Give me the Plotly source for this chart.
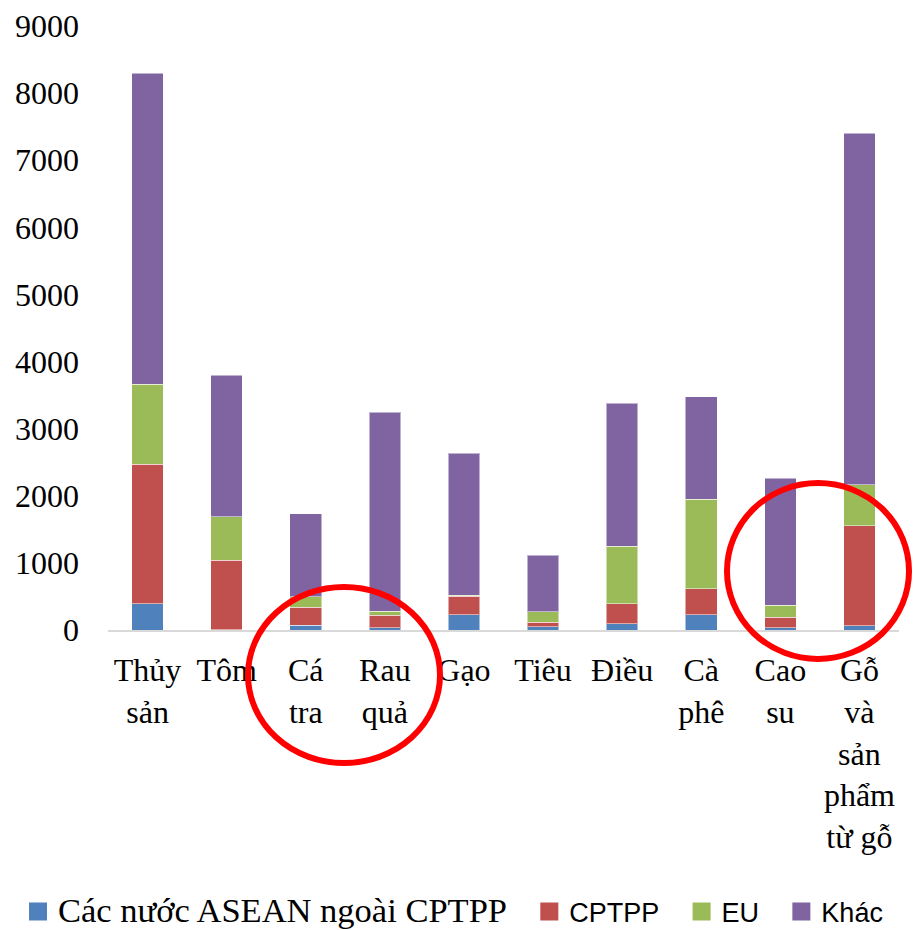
import plotly.graph_objects as go

categories = ["Thủy<br>sản", "Tôm", "Cá<br>tra", "Rau<br>quả", "Gạo", "Tiêu", "Điều",
              "Cà<br>phê", "Cao<br>su", "Gỗ<br>và<br>sản<br>phẩm<br>từ gỗ"]
asean_ngoai = [390, 5, 71, 33, 226, 52, 92, 226, 33, 62]
cptpp = [2077, 1034, 268, 187, 277, 60, 298, 387, 157, 1493]
eu = [1197, 650, 160, 60, 15, 159, 857, 1333, 179, 610]
khac = [4632, 2109, 1235, 2967, 2113, 842, 2134, 1529, 1890, 5238]

series_names = ["Các nước ASEAN ngoài CPTPP", "CPTPP", "EU", "Khác"]
PAD = "\u00a0\u00a0\u200a"
legend_labels = ['<span style="font-family:Liberation Serif;font-size:34.5px">Các nước ASEAN ngoài CPTPP</span>' + PAD,
                 "CPTPP" + PAD, "EU" + PAD, "Khác"]
series_values = [asean_ngoai, cptpp, eu, khac]
series_colors = ["#4F81BD", "#C0504D", "#9BBB59", "#8064A2"]

fig = go.Figure()
for name, label, vals, col in zip(series_names, legend_labels, series_values, series_colors):
    fig.add_trace(go.Bar(x=list(range(len(categories))), y=vals, name=name, legendgroup=name,
                         showlegend=False,
                         marker=dict(color=col, line=dict(color="rgba(255,255,255,0.5)", width=1))))
    # legend entry with a larger square symbol
    fig.add_trace(go.Scatter(x=[None], y=[None], mode="markers", name=label, legendgroup=name,
                             marker=dict(symbol="square", size=16, color=col,
                                         line=dict(color=col, width=2))))

OFF = 8  # page body margin
W, H = 912, 922
L, R, T, B = 100, 21, 18, 300
pw, ph = W - L - R, H - T - B

def px_x(p):
    return (p - OFF - L) / pw

def px_y(p):
    return (H - B - (p - OFF)) / ph

ellipses = [(248, 440, 587, 763), (727, 909, 483, 659)]
shapes = []
for x0, x1, y0, y1 in ellipses:
    shapes.append(dict(type="circle", xref="paper", yref="paper",
                       x0=px_x(x0), x1=px_x(x1), y0=px_y(y1), y1=px_y(y0),
                       line=dict(color="#FF0000", width=6)))

fig.update_layout(
    barmode="stack",
    bargap=0.6,
    width=W, height=H,
    margin=dict(l=L, r=R, t=T, b=B, autoexpand=False),
    plot_bgcolor="white", paper_bgcolor="white",
    showlegend=True,
    legend=dict(orientation="h", x=px_x(18), y=px_y(912), xanchor="left", yanchor="middle",
                font=dict(family="Liberation Sans", size=27, color="black"),
                traceorder="normal", bgcolor="rgba(0,0,0,0)"),
    shapes=shapes,
    xaxis=dict(tickmode="array", tickvals=list(range(len(categories))), ticktext=categories,
               range=[-0.5, len(categories) - 0.5],
               showline=True, linecolor="#D9D9D9", linewidth=2, showgrid=False, ticks="",
               tickfont=dict(family="Liberation Serif", size=32, color="black"),
               ticklabelstandoff=11),
    yaxis=dict(range=[0, 9000], dtick=1000, showgrid=False, zeroline=False, showline=False, ticks="",
               tickfont=dict(family="Liberation Serif", size=32, color="black"),
               ticklabelstandoff=28),
)

fig.write_html("out.html")
